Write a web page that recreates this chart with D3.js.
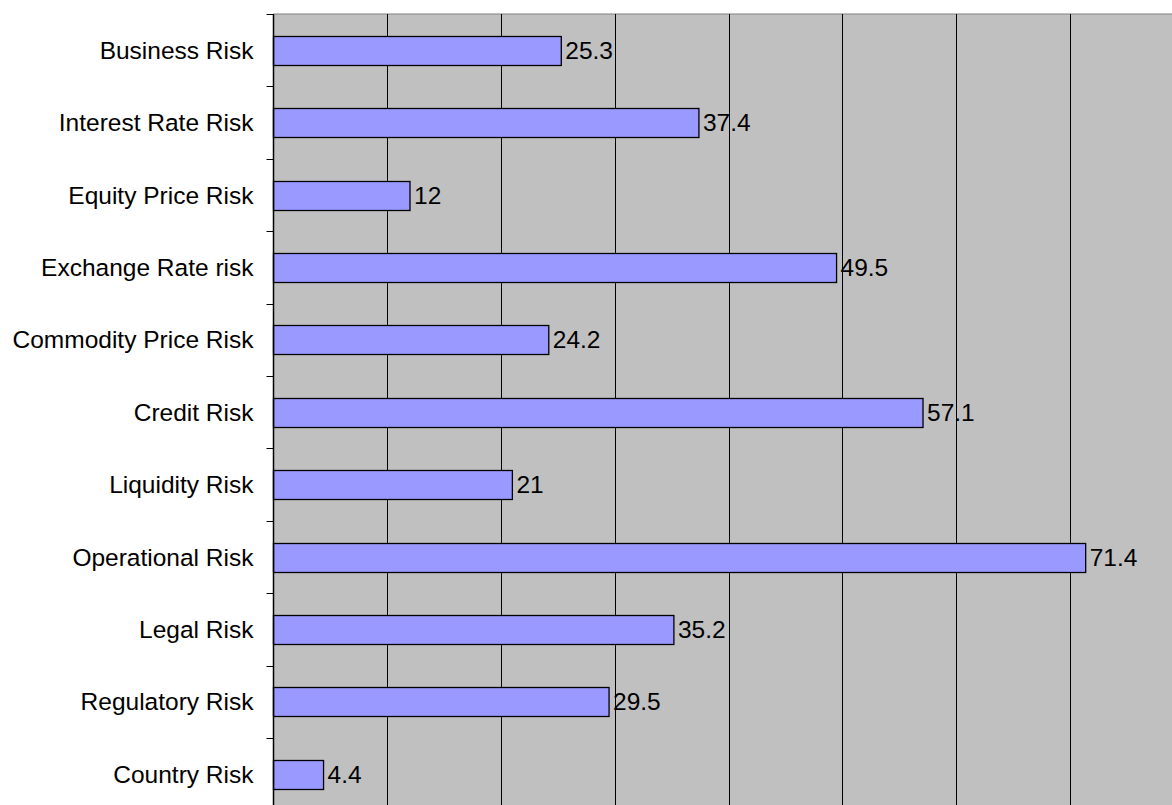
<!DOCTYPE html>
<html>
<head>
<meta charset="utf-8">
<script src="https://cdn.jsdelivr.net/npm/d3@7"></script>
<style>
  html, body { margin: 0; padding: 0; background: #ffffff; }
  svg { display: block; }
  text { font-family: "Liberation Sans", Arial, Helvetica, sans-serif; }
</style>
</head>
<body>
<svg id="chart" width="1172" height="805"></svg>
<script>
// Risk categories, listed top to bottom
const categories = [
  "Business Risk",
  "Interest Rate Risk",
  "Equity Price Risk",
  "Exchange Rate risk",
  "Commodity Price Risk",
  "Credit Risk",
  "Liquidity Risk",
  "Operational Risk",
  "Legal Risk",
  "Regulatory Risk",
  "Country Risk"
];
// Percentage per category
const values = [25.3, 37.4, 12, 49.5, 24.2, 57.1, 21, 71.4, 35.2, 29.5, 4.4];
// Value axis gridline positions
const gridTicks = [10, 20, 30, 40, 50, 60, 70, 80];

const svg = d3.select("#chart");

const plot = { left: 273.5, top: 14, right: 1183.5, bottom: 810.4 };
const fontSize = 24.5;

const x = d3.scaleLinear().domain([0, 80]).range([plot.left, plot.right]);
const y = d3.scaleBand()
  .domain(categories)
  .range([plot.top, plot.bottom])
  .paddingInner(0.6)
  .paddingOuter(0.3);

// Plot area background
svg.append("rect")
  .attr("x", plot.left)
  .attr("y", plot.top)
  .attr("width", plot.right - plot.left)
  .attr("height", plot.bottom - plot.top)
  .attr("fill", "#c0c0c0")
  .attr("stroke", "#808080")
  .attr("stroke-width", 1);

// Vertical gridlines
svg.append("g")
  .selectAll("line")
  .data(gridTicks)
  .join("line")
  .attr("x1", d => Math.round(x(d)) + 0.5)
  .attr("x2", d => Math.round(x(d)) + 0.5)
  .attr("y1", plot.top)
  .attr("y2", plot.bottom)
  .attr("stroke", "#000")
  .attr("stroke-width", 1);

// Bars
svg.append("g")
  .selectAll("rect")
  .data(categories.map((c, i) => ({ c, v: values[i] })))
  .join("rect")
  .attr("x", x(0))
  .attr("y", d => Math.round(y(d.c)) + 0.5)
  .attr("width", d => x(d.v) - x(0))
  .attr("height", Math.round(y.bandwidth()))
  .attr("fill", "#9999ff")
  .attr("stroke", "#000")
  .attr("stroke-width", 1.3);

// Value labels
svg.append("g")
  .selectAll("text")
  .data(categories.map((c, i) => ({ c, v: values[i] })))
  .join("text")
  .attr("x", d => x(d.v) + 4)
  .attr("y", d => y(d.c) + y.bandwidth() / 2)
  .attr("dy", "0.35em")
  .attr("font-size", fontSize)
  .attr("fill", "#000")
  .text(d => d.v);

// Category axis: ticks sit at band boundaries
const axisG = svg.append("g");
axisG.append("line")
  .attr("x1", plot.left).attr("x2", plot.left)
  .attr("y1", plot.top).attr("y2", plot.bottom)
  .attr("stroke", "#000").attr("stroke-width", 1.5);

const boundaries = d3.range(categories.length + 1).map(i => plot.top + i * y.step());
axisG.selectAll("line.tick")
  .data(boundaries)
  .join("line")
  .attr("class", "tick")
  .attr("x1", plot.left - 7)
  .attr("x2", plot.left)
  .attr("y1", d => Math.round(d) + 0.5)
  .attr("y2", d => Math.round(d) + 0.5)
  .attr("stroke", "#000")
  .attr("stroke-width", 1);

axisG.selectAll("text")
  .data(categories)
  .join("text")
  .attr("x", plot.left - 20)
  .attr("y", d => y(d) + y.bandwidth() / 2)
  .attr("dy", "0.35em")
  .attr("text-anchor", "end")
  .attr("font-size", fontSize)
  .attr("fill", "#000")
  .text(d => d);
</script>
</body>
</html>
